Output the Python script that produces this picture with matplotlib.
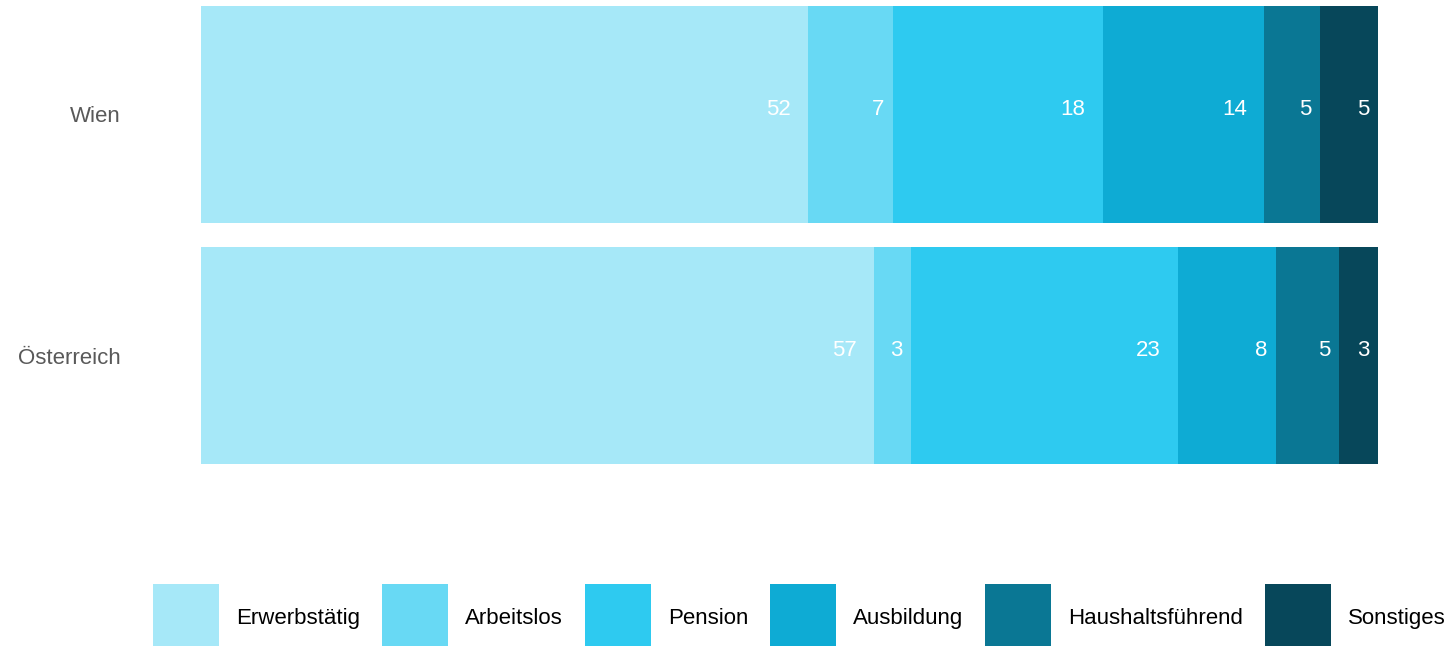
import matplotlib
matplotlib.use("Agg")
import matplotlib.pyplot as plt
from matplotlib.patches import Patch
from matplotlib.transforms import offset_copy

plt.rcParams['font.family'] = ['Liberation Sans', 'DejaVu Sans']

regions = ["Wien", "Österreich"]
categories = ["Erwerbstätig", "Arbeitslos", "Pension", "Ausbildung",
              "Haushaltsführend", "Sonstiges"]
wien = [51.6, 7.2, 17.8, 13.7, 4.8, 4.9]
oesterreich = [57.2, 3.1, 22.7, 8.3, 5.4, 3.3]
colors = ["#A6E8F8", "#68D9F4", "#2ECAF0", "#0EABD4", "#0A7794", "#07475A"]

series = [wien, oesterreich]

W, H = 1453, 646
fig = plt.figure(figsize=(W / 100, H / 100), dpi=100)
ax = fig.add_axes([201 / W, 1 - 464 / H, 1177 / W, 458 / H])

for ri, vals in enumerate(series):
    left = 0
    for ci, v in enumerate(vals):
        ax.barh(ri, v, left=left, height=0.9, color=colors[ci], linewidth=0)
        end = left + v
        txt = f"{v:.0f}"
        tr = offset_copy(ax.transData, fig=fig, x=-14.75 * len(txt) * 0.72,
                         y=-0.6, units='points')
        ax.text(end, ri, txt, transform=tr, ha='center', va='baseline',
                color='white', fontsize=16)
        left = end

ax.set_xlim(0, 100)
ax.set_ylim(1.45, -0.45)
ax.set_yticks(range(len(regions)))
ax.set_yticklabels(regions, fontsize=16, color='#595959')
ax.tick_params(axis='y', length=0, pad=58)
ax.set_xticks([])
for s in ax.spines.values():
    s.set_visible(False)

handles = [Patch(facecolor=c, edgecolor='none', label=l) for c, l in zip(colors, categories)]
fig.legend(handles=handles, loc='upper left', bbox_to_anchor=(153 / W, 1 - 584 / H),
           ncol=6, frameon=False, fontsize=16, borderpad=0, borderaxespad=0,
           handlelength=2.97, handleheight=4.4, handletextpad=0.77,
           columnspacing=0.98)

fig.savefig("out.png", dpi=100)
